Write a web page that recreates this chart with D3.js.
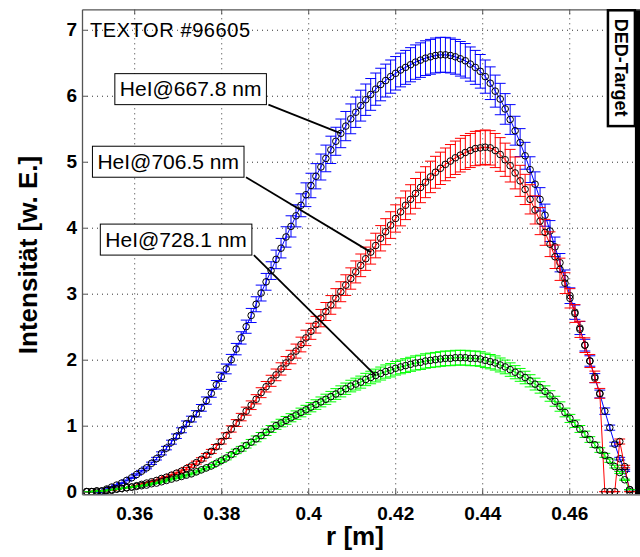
<!DOCTYPE html>
<html>
<head>
<meta charset="utf-8">
<script src="https://cdn.jsdelivr.net/npm/d3@7"></script>
<style>
  body { margin: 0; background: #fff; }
  svg { display: block; font-family: "Liberation Sans", Arial, Helvetica, sans-serif; }
</style>
</head>
<body>
<div id="chart"></div>
<script>
// radial grid of the measurement (m)
const rStart = 0.3491;
const rStep = 0.001145;

// HeI 667.8 nm
const blueVals = [
  0.00, 0.00, -0.01, -0.05, 0.04, 0.07, 0.10, 0.13, 0.17, 0.21,
  0.26, 0.31, 0.36, 0.43, 0.50, 0.58, 0.66, 0.75, 0.84, 0.93,
  1.03, 1.10, 1.18, 1.27, 1.38, 1.49, 1.62, 1.74, 1.86, 2.00,
  2.16, 2.33, 2.50, 2.67, 2.84, 3.01, 3.18, 3.35, 3.52, 3.69,
  3.86, 4.02, 4.18, 4.34, 4.50, 4.64, 4.78, 4.92, 5.05, 5.18,
  5.31, 5.43, 5.54, 5.65, 5.75, 5.85, 5.94, 6.02, 6.10, 6.17,
  6.23, 6.29, 6.34, 6.39, 6.43, 6.47, 6.51, 6.54, 6.57, 6.59,
  6.61, 6.62, 6.62, 6.61, 6.59, 6.56, 6.53, 6.48, 6.43, 6.37,
  6.29, 6.19, 6.07, 5.95, 5.80, 5.64, 5.47, 5.29, 5.09, 4.88,
  4.66, 4.43, 4.19, 3.95, 3.71, 3.47, 3.23, 2.97, 2.72, 2.48,
  2.22, 1.98, 1.72, 1.48, 1.22, 0.97, 0.72, 0.50, 0.32, 0.03
];

// HeI 706.5 nm
const redVals = [
  0.00, 0.00, 0.01, 0.01, 0.02, 0.02, 0.04, 0.05, 0.06, 0.07,
  0.09, 0.11, 0.13, 0.15, 0.17, 0.20, 0.22, 0.25, 0.28, 0.31,
  0.35, 0.39, 0.44, 0.49, 0.55, 0.61, 0.68, 0.76, 0.85, 0.95,
  1.04, 1.13, 1.22, 1.31, 1.40, 1.50, 1.59, 1.68, 1.77, 1.86,
  1.95, 2.04, 2.13, 2.23, 2.33, 2.43, 2.53, 2.63, 2.73, 2.83,
  2.93, 3.03, 3.13, 3.23, 3.33, 3.43, 3.53, 3.63, 3.73, 3.84,
  3.94, 4.04, 4.14, 4.24, 4.34, 4.43, 4.52, 4.61, 4.69, 4.77,
  4.84, 4.90, 4.96, 5.01, 5.06, 5.10, 5.14, 5.17, 5.20, 5.21,
  5.22, 5.21, 5.17, 5.11, 5.03, 4.94, 4.83, 4.71, 4.58, 4.43,
  4.27, 4.10, 3.93, 3.75, 3.56, 3.37, 3.16, 2.93, 2.70, 2.46,
  2.22, 1.98, 1.74, 1.49, 0.00, 0.00, 0.00, 0.76, 0.38, 0.00
];

// HeI 728.1 nm
const greenVals = [
  0.00, 0.00, 0.01, 0.01, 0.02, 0.03, 0.04, 0.05, 0.06, 0.07,
  0.08, 0.09, 0.10, 0.12, 0.13, 0.15, 0.17, 0.19, 0.21, 0.23,
  0.25, 0.27, 0.30, 0.33, 0.36, 0.39, 0.43, 0.47, 0.51, 0.56,
  0.61, 0.65, 0.70, 0.75, 0.80, 0.85, 0.90, 0.95, 1.00, 1.04,
  1.08, 1.12, 1.16, 1.20, 1.24, 1.28, 1.32, 1.36, 1.40, 1.44,
  1.48, 1.52, 1.56, 1.60, 1.63, 1.66, 1.70, 1.73, 1.76, 1.79,
  1.82, 1.84, 1.87, 1.89, 1.91, 1.93, 1.95, 1.96, 1.98, 1.99,
  2.00, 2.01, 2.02, 2.02, 2.03, 2.03, 2.03, 2.02, 2.02, 2.01,
  1.99, 1.97, 1.95, 1.92, 1.89, 1.85, 1.81, 1.77, 1.73, 1.68,
  1.63, 1.58, 1.52, 1.45, 1.37, 1.29, 1.20, 1.11, 1.03, 0.95,
  0.87, 0.79, 0.71, 0.63, 0.55, 0.47, 0.38, 0.29, 0.18, 0.03
];

// relative errors (fraction of the value)
const blueRelErr = 0.04;
const redRelErr = 0.05;
const greenRelErr = 0.055;

const seriesNames = ["HeI@667.8 nm", "HeI@706.5 nm", "HeI@728.1 nm"];
const xTicks = [0.36, 0.38, 0.40, 0.42, 0.44, 0.46];
const yTicks = [0, 1, 2, 3, 4, 5, 6, 7];
const dedTargetR = 0.4751;

const width = 640, height = 557;
const plot = { left: 82, top: 9.3, right: 641, bottom: 494.3 };

const xScale = d3.scaleLinear().domain([0.348, 0.4765]).range([plot.left, plot.right]);
const yScale = d3.scaleLinear().domain([-0.04, 7.31]).range([plot.bottom, plot.top]);

const rGrid = d3.range(blueVals.length).map(i => rStart + i * rStep);

const svg = d3.select("#chart").append("svg")
  .attr("width", width)
  .attr("height", height);

svg.append("rect").attr("width", width).attr("height", height).attr("fill", "#fff");

svg.append("clipPath").attr("id", "plot-clip")
  .append("rect")
  .attr("x", plot.left).attr("y", plot.top)
  .attr("width", plot.right - plot.left).attr("height", plot.bottom - plot.top);

// grid lines
const grid = svg.append("g").attr("class", "grid");
grid.append("g")
  .attr("transform", `translate(0,${plot.bottom})`)
  .call(d3.axisBottom(xScale).tickValues(xTicks).tickSize(-(plot.bottom - plot.top)).tickFormat(""));
grid.append("g")
  .attr("transform", `translate(${plot.left},0)`)
  .call(d3.axisLeft(yScale).tickValues(yTicks).tickSize(-(plot.right - plot.left)).tickFormat(""));
grid.selectAll(".domain").remove();
grid.selectAll("line")
  .attr("stroke", "#333")
  .attr("stroke-width", 1)
  .attr("stroke-dasharray", "1,4");

// data
const g = svg.append("g").attr("clip-path", "url(#plot-clip)");

// DED target (black bar at the right edge)
g.append("rect")
  .attr("x", xScale(dedTargetR))
  .attr("y", plot.top)
  .attr("width", plot.right - xScale(dedTargetR) + 2)
  .attr("height", plot.bottom - plot.top)
  .attr("fill", "#000");

const series = [
  { vals: blueVals, color: "#0000ff", rel: blueRelErr },
  { vals: redVals, color: "#ff0000", rel: redRelErr },
  { vals: greenVals, color: "#00ff00", rel: greenRelErr }
];

const halfCap = xScale(0.34925) - xScale(0.348);

const line = d3.line()
  .x(d => xScale(d.r))
  .y(d => yScale(d.v));

series.forEach(s => {
  const pts = s.vals.map((v, i) => ({ r: rGrid[i], v: v, e: Math.abs(v) * s.rel }));
  const grp = g.append("g");

  let bars = "";
  pts.forEach(p => {
    const cx = xScale(p.r);
    const yt = yScale(p.v + p.e);
    const yb = yScale(p.v - p.e);
    bars += `M${cx - halfCap},${yt}H${cx + halfCap}M${cx},${yt}V${yb}M${cx - halfCap},${yb}H${cx + halfCap}`;
  });
  grp.append("path")
    .attr("d", bars)
    .attr("fill", "none")
    .attr("stroke", s.color)
    .attr("stroke-width", 1);

  grp.append("path")
    .datum(pts)
    .attr("d", line)
    .attr("fill", "none")
    .attr("stroke", s.color)
    .attr("stroke-width", 1);

  grp.selectAll("circle")
    .data(pts)
    .enter()
    .append("circle")
    .attr("cx", d => xScale(d.r))
    .attr("cy", d => yScale(d.v))
    .attr("r", 3.3)
    .attr("fill", "none")
    .attr("stroke", "#000")
    .attr("stroke-width", 1);
});

// axes
const axisColor = "#555";
const xAxis = svg.append("g")
  .attr("transform", `translate(0,${plot.bottom})`)
  .call(d3.axisBottom(xScale).tickValues(xTicks).tickSize(-5).tickSizeOuter(0).tickPadding(12)
    .tickFormat(d => d3.format(".2f")(d).replace(/0$/, "")));
const xTop = svg.append("g")
  .attr("transform", `translate(0,${plot.top})`)
  .call(d3.axisTop(xScale).tickValues(xTicks).tickSize(-5).tickSizeOuter(0).tickFormat(""));
const yAxis = svg.append("g")
  .attr("transform", `translate(${plot.left},0)`)
  .call(d3.axisLeft(yScale).tickValues(yTicks).tickSize(-5).tickSizeOuter(0).tickPadding(5));

[xAxis, xTop, yAxis].forEach(a => {
  a.select(".domain").attr("stroke", axisColor).attr("stroke-width", 1.3);
  a.selectAll(".tick line").attr("stroke", axisColor).attr("stroke-width", 1);
  a.selectAll("text")
    .attr("fill", "#000")
    .style("font-family", "'Liberation Sans', Arial, sans-serif")
    .style("font-size", "19px")
    .style("font-weight", "bold");
});

// axis titles
svg.append("text")
  .attr("x", 355)
  .attr("y", 545)
  .attr("text-anchor", "middle")
  .style("font-size", "26px")
  .style("font-weight", "bold")
  .text("r [m]");

svg.append("text")
  .attr("transform", "translate(37,255) rotate(-90)")
  .attr("text-anchor", "middle")
  .style("font-size", "26px")
  .style("font-weight", "bold")
  .text("Intensität [w. E.]");

// shot label
svg.append("text")
  .attr("x", xScale(0.34982))
  .attr("y", yScale(6.89))
  .style("font-size", "20px")
  .style("letter-spacing", "0.6px")
  .text("TEXTOR #96605");

// DED-Target label box
const dedLeft = xScale(0.4689);
const dedBottom = yScale(5.54);
svg.append("rect")
  .attr("x", dedLeft)
  .attr("y", plot.top + 1)
  .attr("width", xScale(dedTargetR) - dedLeft)
  .attr("height", dedBottom - plot.top - 1)
  .attr("fill", "#fff")
  .attr("stroke", "#000")
  .attr("stroke-width", 2.5);
svg.append("text")
  .attr("transform", `translate(${(dedLeft + xScale(dedTargetR)) / 2},${(plot.top + dedBottom) / 2}) rotate(90)`)
  .attr("text-anchor", "middle")
  .attr("dy", "0.35em")
  .style("font-size", "18px")
  .style("font-weight", "bold")
  .text("DED-Target");

// series labels with leader lines (label centre in data units, target point index)
const labelPos = [
  { cx: 0.37297, cy: 6.10, idx: 51, vals: blueVals },
  { cx: 0.36782, cy: 5.00, idx: 57, vals: redVals },
  { cx: 0.36963, cy: 3.82, idx: 58, vals: greenVals }
];

labelPos.forEach((lp, i) => {
  const lg = svg.append("g");
  const t = lg.append("text")
    .attr("x", xScale(lp.cx))
    .attr("y", yScale(lp.cy))
    .attr("text-anchor", "middle")
    .attr("dy", "0.35em")
    .style("font-size", "21px")
    .text(seriesNames[i]);
  const bb = t.node().getBBox();
  const bw = bb.width + 10, bh = 31;
  const bx = xScale(lp.cx) - bw / 2, by = yScale(lp.cy) - bh / 2;
  lg.insert("rect", "text")
    .attr("x", bx).attr("y", by)
    .attr("width", bw).attr("height", bh)
    .attr("fill", "#fff")
    .attr("stroke", "#000")
    .attr("stroke-width", 1);
  svg.append("line")
    .attr("x1", bx + bw + 2).attr("y1", by + bh)
    .attr("x2", xScale(rGrid[lp.idx])).attr("y2", yScale(lp.vals[lp.idx]))
    .attr("stroke", "#000")
    .attr("stroke-width", 1.8);
});
</script>
</body>
</html>
